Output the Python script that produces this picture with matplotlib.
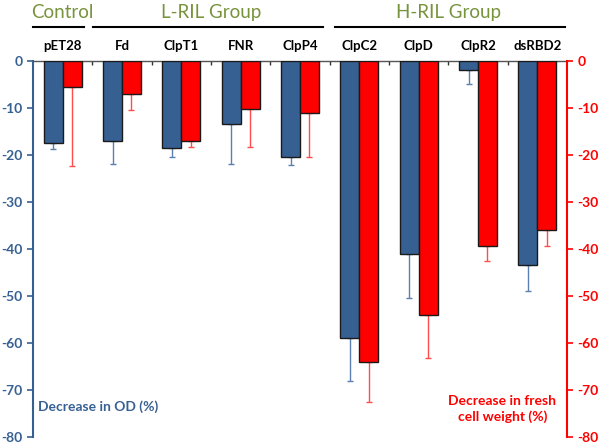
import numpy as np
import matplotlib
matplotlib.use("Agg")
import matplotlib.pyplot as plt

plt.rcParams['font.family'] = ['Lato', 'DejaVu Sans']

genes = ["pET28", "Fd", "ClpT1", "FNR", "ClpP4", "ClpC2", "ClpD", "ClpR2", "dsRBD2"]
od = [-17.4, -17.0, -18.5, -13.5, -20.5, -59.0, -41.0, -2.0, -43.5]
od_err = [1.3, 5.0, 2.0, 8.5, 1.7, 9.0, 9.4, 3.0, 5.5]
fcw = [-5.5, -7.0, -17.0, -10.2, -11.0, -64.0, -54.0, -39.3, -36.0]
fcw_err = [16.8, 3.4, 1.3, 8.0, 9.4, 8.5, 9.2, 3.2, 3.3]
groups = ["Control", "L-RIL Group", "H-RIL Group"]
group_span = [(0, 0), (1, 4), (5, 8)]
yticks = [0, -10, -20, -30, -40, -50, -60, -70, -80]

BLUE = "#376092"
RED = "#FF0000"
GREEN = "#77933C"

fig = plt.figure(figsize=(6, 4.47), dpi=100)
ax = fig.add_axes([0.055, 0.0224, 0.89, 0.8412])
x = np.arange(len(genes))
w = 0.32

ax.bar(x - w/2, od, w, color=BLUE, edgecolor="#1a1a1a", linewidth=1.0, zorder=3)
ax.bar(x + w/2, fcw, w, color=RED, edgecolor="#1a1a1a", linewidth=1.0, zorder=3)
ax.errorbar(x - w/2, od, yerr=[od_err, [0]*len(od)], fmt="none",
            ecolor="#5b7fb0", elinewidth=1.0, capsize=2.5, capthick=1.0, zorder=2)
ax.errorbar(x + w/2, fcw, yerr=[fcw_err, [0]*len(fcw)], fmt="none",
            ecolor="#ff4d4d", elinewidth=1.0, capsize=2.5, capthick=1.0, zorder=2)

ax.set_xlim(-0.5, len(genes) - 0.5)
ax.set_ylim(-80, 0)
ax.set_yticks(yticks)
ax.set_yticklabels([str(v) for v in yticks], color=BLUE, fontweight="bold", fontsize=10)
ax.tick_params(axis="y", colors=BLUE, direction="out", length=4, width=1.2, labelcolor=BLUE)

ax.spines["left"].set_color(BLUE)
ax.spines["left"].set_linewidth(1.5)
ax.spines["right"].set_visible(False)
ax.spines["bottom"].set_visible(False)
ax.spines["top"].set_color("#555555")
ax.spines["top"].set_linewidth(1.0)
ax.xaxis.set_ticks_position("top")
ax.set_xticks(np.arange(len(genes) - 1) + 0.5)
ax.set_xticklabels([])
ax.tick_params(axis="x", direction="in", length=3, width=1.0, colors="#333333")

ax2 = ax.twinx()
ax2.set_ylim(-80, 0)
ax2.set_yticks(yticks)
ax2.set_yticklabels([str(v) for v in yticks], color=RED, fontweight="bold", fontsize=10)
ax2.tick_params(axis="y", colors=RED, direction="out", length=4, width=1.2, labelcolor=RED)
for s in ["left", "top", "bottom"]:
    ax2.spines[s].set_visible(False)
ax2.spines["right"].set_color(RED)
ax2.spines["right"].set_linewidth(1.5)

# category labels above the zero line
for i, g in enumerate(genes):
    ax.text(i, 3.2, g, ha="center", va="center", fontsize=9.5, fontweight="bold",
            color="black", clip_on=False)

# group labels and lines
line_pad = [(0.5, 0.36), (0.49, 0.39), (0.41, 0.47)]
for name, (a, b), (pl, pr) in zip(groups, group_span, line_pad):
    xc = (a + b) / 2
    ax.text(xc, 10.3, name, ha="center", va="center", fontsize=13.5,
            color=GREEN, clip_on=False)
    ax.plot([a - pl, b + pr], [7.2, 7.2], color="black", lw=1.5, clip_on=False)

ax.text(0.01, 0.08, "Decrease in OD (%)", transform=ax.transAxes, ha="left",
        va="center", color=BLUE, fontweight="bold", fontsize=10)
ax.text(0.98, 0.075, "Decrease in fresh\ncell weight (%)", transform=ax.transAxes,
        ha="right", va="center", color=RED, fontweight="bold", fontsize=10,
        multialignment="center", linespacing=1.3)

fig.savefig("out.png", dpi=100)
